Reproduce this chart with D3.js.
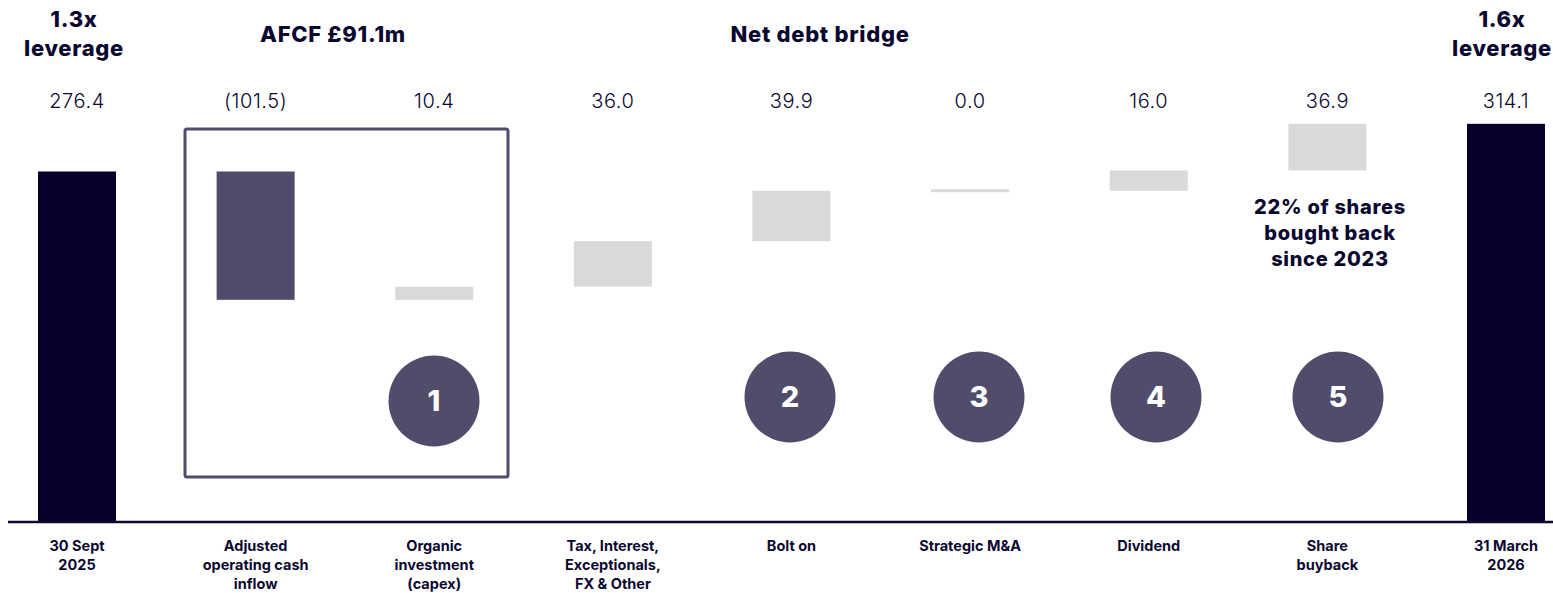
<!DOCTYPE html>
<html>
<head>
<meta charset="utf-8">
<script src="https://cdn.jsdelivr.net/npm/d3@7"></script>
<style>
  body { margin: 0; background: #fff; }
  text { font-family: Inter, "Open Sans", sans-serif; fill: #0b0830; }
</style>
</head>
<body>
<div id="chart"></div>
<script>
const categories = ["30 Sept\n2025", "Adjusted\noperating cash\ninflow", "Organic\ninvestment\n(capex)",
    "Tax, Interest,\nExceptionals,\nFX & Other", "Bolt on", "Strategic M&A", "Dividend", "Share\nbuyback", "31 March\n2026"];
const values = [276.4, -101.5, 10.4, 36.0, 39.9, 0.0, 16.0, 36.9, 314.1];
const valueLabels = ["276.4", "(101.5)", "10.4", "36.0", "39.9", "0.0", "16.0", "36.9", "314.1"];
const kinds = ["total", "inflow", "step", "step", "step", "step", "step", "step", "total"];
const badges = [null, null, "1", null, "2", "3", "4", "5", null];

const width = 1553, height = 593;
const baseY = 521, barW = 78;

const svg = d3.select("#chart").append("svg")
    .attr("width", width)
    .attr("height", height);

const x = d3.scalePoint()
    .domain(d3.range(categories.length))
    .range([77, 1506]);

const y = d3.scaleLinear()
    .domain([0, 300])
    .range([baseY, baseY - 300 * 1.2645]);

// running totals for the waterfall
let running = 0;
const bars = values.map((v, i) => {
    let lo, hi;
    if (kinds[i] === "total") {
        lo = 0; hi = v; running = v;
    } else {
        const start = running;
        running = start + v;
        lo = Math.min(start, running); hi = Math.max(start, running);
    }
    return { i, lo, hi, kind: kinds[i] };
});

const colour = { total: "#04002b", inflow: "#4f4d6b", step: "#d9d9d9" };

// AFCF box
svg.append("rect")
    .attr("x", 185).attr("y", 129)
    .attr("width", 323).attr("height", 348)
    .attr("rx", 2)
    .attr("fill", "none")
    .attr("stroke", "#4f4d6b")
    .attr("stroke-width", 3);

svg.selectAll(".bar")
    .data(bars)
    .join("rect")
    .attr("class", "bar")
    .attr("x", d => x(d.i) - barW / 2)
    .attr("width", barW)
    .attr("y", d => y(d.hi) - (d.hi === d.lo ? 1.5 : 0))
    .attr("height", d => Math.max(y(d.lo) - y(d.hi), 3))
    .attr("fill", d => colour[d.kind]);

// baseline
svg.append("line")
    .attr("x1", 8).attr("x2", width)
    .attr("y1", baseY + 1).attr("y2", baseY + 1)
    .attr("stroke", "#0b0830")
    .attr("stroke-width", 2.5);

// value labels
svg.selectAll(".val")
    .data(valueLabels)
    .join("text")
    .attr("class", "val")
    .attr("x", (d, i) => x(i))
    .attr("y", 108)
    .attr("text-anchor", "middle")
    .style("font-size", "20px")
    .style("font-weight", "300")
    .style("letter-spacing", "0.6px")
    .text(d => d);

// category labels
const cat = svg.selectAll(".cat")
    .data(categories)
    .join("text")
    .attr("class", "cat")
    .attr("x", (d, i) => x(i))
    .attr("y", 551)
    .attr("text-anchor", "middle")
    .style("font-size", "14.5px")
    .style("font-weight", "700");
cat.selectAll("tspan")
    .data((d, i) => d.split("\n").map(t => ({ t, i })))
    .join("tspan")
    .attr("x", d => x(d.i))
    .attr("dy", (d, j) => j === 0 ? 0 : 19)
    .text(d => d.t);

// numbered badges
const badgeY = [0, 0, 401, 0, 397, 397, 397, 397, 0];
const badgeX = [0, 0, 434, 0, 790, 979, 1156, 1338, 0];
const bd = svg.selectAll(".badge")
    .data(badges.map((b, i) => ({ b, i })).filter(d => d.b))
    .join("g")
    .attr("transform", d => `translate(${badgeX[d.i]},${badgeY[d.i]})`);
bd.append("circle").attr("r", 45.5).attr("fill", "#4f4d6b");
bd.append("text")
    .attr("text-anchor", "middle")
    .attr("dy", "0.36em")
    .style("font-size", "29px")
    .style("font-weight", "800")
    .style("fill", "#fff")
    .text(d => d.b);

// headings
function multi(lines, cx, y0, dy, size) {
    const t = svg.append("text")
        .attr("x", cx).attr("y", y0)
        .attr("text-anchor", "middle")
        .style("font-size", size + "px")
        .style("font-weight", "800")
        .style("letter-spacing", "0.7px");
    lines.forEach((l, j) => t.append("tspan").attr("x", cx).attr("dy", j ? dy : 0).text(l));
}
multi(["1.3x", "leverage"], 74, 27, 29, 22);
multi(["1.6x", "leverage"], 1502, 27, 29, 22);
multi(["AFCF £91.1m"], 333, 42, 0, 22);
multi(["Net debt bridge"], 820, 42, 0, 22);
multi(["22% of shares", "bought back", "since 2023"], 1330, 214, 26, 20);
</script>
</body>
</html>
